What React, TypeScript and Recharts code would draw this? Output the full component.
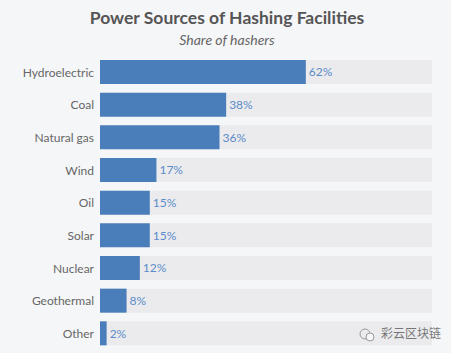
import { BarChart, Bar, XAxis, YAxis, LabelList } from "recharts";

const categories = [
  "Hydroelectric",
  "Coal",
  "Natural gas",
  "Wind",
  "Oil",
  "Solar",
  "Nuclear",
  "Geothermal",
  "Other",
];

const shares = [62, 38, 36, 17, 15, 15, 12, 8, 2];

const data = categories.map((name, i) => ({ name, share: shares[i] }));

const FONT = "Lato, 'Open Sans', sans-serif";

export default function App() {
  return (
    <div
      style={{
        position: "fixed",
        left: 0,
        top: 0,
        width: 451,
        height: 353,
        background: "#f5f6f8",
        fontFamily: FONT,
      }}
    >
      <BarChart
        width={451}
        height={353}
        data={data}
        layout="vertical"
        margin={{ top: 56, right: 19, bottom: 3, left: 0 }}
      >
        <text x={227} y={24} textAnchor="middle" fontSize={17.5} fontWeight={700} fill="#555" fontFamily={FONT}>
          Power Sources of Hashing Facilities
        </text>
        <text x={227} y={45} textAnchor="middle" fontSize={14} fontStyle="italic" fill="#666" fontFamily={FONT}>
          Share of hashers
        </text>
        <XAxis type="number" domain={[0, 100]} hide />
        <YAxis
          type="category"
          dataKey="name"
          width={100}
          axisLine={false}
          tickLine={false}
          tickMargin={0}
          tick={{ fill: "#666", fontSize: 12, fontFamily: FONT }}
        />
        <Bar
          dataKey="share"
          fill="#4a7ebb"
          barSize={24}
          background={{ fill: "#ebebed" }}
          isAnimationActive={false}
        >
          <LabelList
            dataKey="share"
            position="right"
            offset={3}
            formatter={(v: number) => `${v}%`}
            style={{ fill: "#5b8bc9", fontSize: 12, fontFamily: FONT }}
          />
        </Bar>
        <g>
          <circle cx={365} cy={334} r={5} fill="none" stroke="#999" strokeWidth={1} />
          <circle cx={370} cy={337} r={4} fill="#f5f6f8" stroke="#999" strokeWidth={1} />
          <text x={381} y={338} fontSize={12} fill="#777" fontFamily="'Noto Sans CJK SC', sans-serif">
            彩云区块链
          </text>
        </g>
      </BarChart>
    </div>
  );
}
